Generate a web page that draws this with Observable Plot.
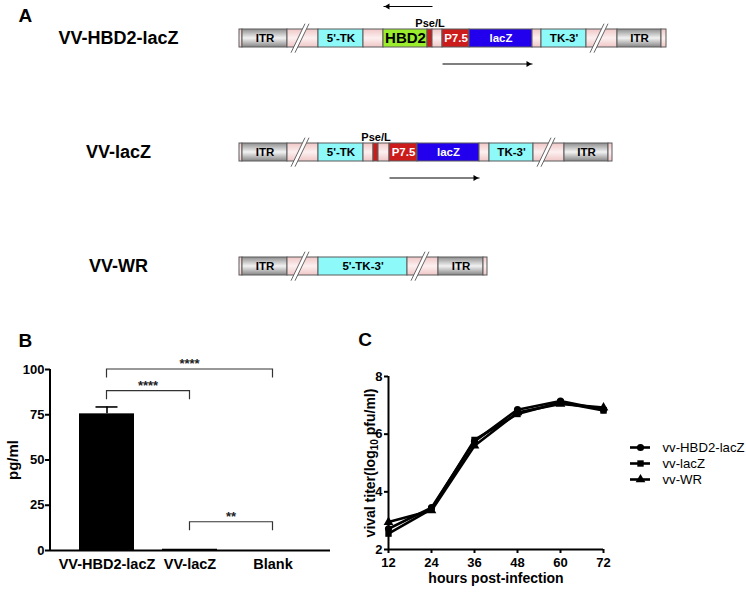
<!DOCTYPE html>
<html><head><meta charset="utf-8">
<script src="https://cdn.jsdelivr.net/npm/d3@7"></script>
<script src="https://cdn.jsdelivr.net/npm/@observablehq/plot@0.6"></script>
<style>
body{margin:0;background:#fff;}
#chart{position:relative;width:746px;height:593px;overflow:hidden;font-family:"Liberation Sans",Arial,sans-serif;}
#chart > div{position:absolute;}
#chart svg{max-width:none;background:none;overflow:visible;}
</style></head><body><div id="chart"></div>
<script>
// ---------------- Panel A: constructs ----------------
const constructs = ["VV-HBD2-lacZ", "VV-lacZ", "VV-WR"];
const partsHBD2 = ["end","ITR","break","5'-TK","spacer","HBD2","Pse/L","spacer","P7.5","lacZ","spacer","TK-3'","break","ITR","end"];
const lengthsHBD2 = [3,45,31,45,20,44,5,10,27,63,9,45,31,44,5];
const partsLacZ = ["end","ITR","break","5'-TK","spacer","Pse/L","spacer","P7.5","lacZ","spacer","TK-3'","break","ITR","end"];
const lengthsLacZ = [3,45,31,45,10,5,11,28,62,10,44,31,44,4];
const partsWR = ["end","ITR","break","5'-TK-3'","break","ITR","end"];
const lengthsWR = [3,45,31,89,31,45,4];
const arrowsA = [
  {construct: "VV-HBD2-lacZ", from: "Pse/L", to: "HBD2", side: "above"},
  {construct: "VV-HBD2-lacZ", from: "P7.5", to: "lacZ", side: "below"},
  {construct: "VV-lacZ", from: "P7.5", to: "lacZ", side: "below"}
];

// ---------------- Panel B: ELISA ----------------
const groupsB = ["VV-HBD2-lacZ", "VV-lacZ", "Blank"];
const meansB = [75.5, 0.7, 0];
const semB = [3.8, 0, 0];
const yTicksB = [0, 25, 50, 75, 100];
const compFrom = ["VV-HBD2-lacZ", "VV-HBD2-lacZ", "VV-lacZ"];
const compTo = ["Blank", "VV-lacZ", "Blank"];
const compLevel = [100, 88, 15.6];
const compLabel = ["****", "****", "**"];

// ---------------- Panel C: growth curves ----------------
const hours = [12, 24, 36, 48, 60, 72];
const seriesNames = ["vv-HBD2-lacZ", "vv-lacZ", "vv-WR"];
const titerHBD2 = [2.72, 3.45, 5.75, 6.85, 7.15, 6.85];
const titerLacZ = [2.55, 3.40, 5.80, 6.70, 7.10, 6.82];
const titerWR = [2.95, 3.35, 5.60, 6.75, 7.05, 6.92];
const yTicksC = [2, 4, 6, 8];

// ---------------- build tables ----------------
const layoutA = [[partsHBD2, lengthsHBD2], [partsLacZ, lengthsLacZ], [partsWR, lengthsWR]];
const segments = constructs.flatMap((c, i) => {
  let s = 0;
  return layoutA[i][0].map((p, j) => {
    const seg = {construct: c, part: p, start: s, end: s + layoutA[i][1][j]};
    s = seg.end;
    return seg;
  });
});
const totalA = d3.max(segments, d => d.end);
const arrowData = arrowsA.map(a => {
  const segs = segments.filter(s => s.construct === a.construct);
  const f = segs.find(s => s.part === a.from), t = segs.find(s => s.part === a.to);
  const rev = segs.indexOf(f) > segs.indexOf(t);
  return {...a, x1: rev ? f.end : f.start, x2: rev ? t.start : t.end, rev};
});
const dataB = groupsB.map((g, i) => ({group: g, mean: meansB[i], sem: semB[i]}));
const comps = compFrom.map((f, i) => ({from: f, to: compTo[i], level: compLevel[i], label: compLabel[i]}));
const titers = [titerHBD2, titerLacZ, titerWR];
const dataC = seriesNames.flatMap((s, i) => hours.map((h, j) => ({series: s, hour: h, titer: titers[i][j]})));

const FONT = '"Liberation Sans", Arial, sans-serif';
const chart = document.getElementById("chart");
function place(node, left, top) {
  const d = document.createElement("div");
  d.style.left = left + "px"; d.style.top = top + "px";
  d.appendChild(node); chart.appendChild(d);
  return node;
}
const bw = s => (s && typeof s.bandwidth === "function") ? s.bandwidth() : 0;

// ---------------- Panel A ----------------
const fillOf = {
  end: "url(#gPink)", break: "url(#gPink)", spacer: "url(#gPink)",
  ITR: "url(#gGrey)", "5'-TK": "#8ef9f9", "TK-3'": "#8ef9f9", "5'-TK-3'": "#8ef9f9",
  HBD2: "#9aec2c", "Pse/L": "#cc1b1b", "P7.5": "#cc1b1b", lacZ: "#2200ee"
};
const labeled = new Set(["ITR", "5'-TK", "TK-3'", "5'-TK-3'", "HBD2", "P7.5", "lacZ"]);
const slashes = (index, scales) => {
  const {x, y} = scales;
  const h = bw(y) || 18;
  const g = d3.create("svg:g");
  for (const d of segments.filter(d => d.part === "break")) {
    const xc = x((d.start + d.end) / 2) - 2.5;
    const yt = y(d.construct) - 5.3, yb = y(d.construct) + h + 5.7;
    const lean = 7, gap = 4;
    g.append("path")
      .attr("d", `M${xc - lean - gap / 2},${yb}L${xc + lean - gap / 2},${yt}L${xc + lean + gap / 2},${yt}L${xc - lean + gap / 2},${yb}Z`)
      .attr("fill", "white");
    for (const o of [-gap / 2, gap / 2]) {
      g.append("line").attr("x1", xc - lean + o).attr("y1", yb).attr("x2", xc + lean + o).attr("y2", yt)
        .attr("stroke", "#555").attr("stroke-width", 0.9);
    }
  }
  return g.node();
};
const above = arrowData.filter(d => d.side === "above");
const below = arrowData.filter(d => d.side === "below");
const plotA = Plot.plot({
  width: 746, height: 300, marginLeft: 239, marginRight: 746 - 239 - totalA, marginTop: 0, marginBottom: 0,
  x: {domain: [0, totalA], axis: null},
  y: {type: "band", domain: constructs, range: [28, 275.4], paddingInner: 0.843, paddingOuter: 0, axis: null},
  color: {type: "identity"},
  style: {fontFamily: FONT, background: "transparent", overflow: "visible"},
  marks: [
    Plot.barX(segments, {x1: "start", x2: "end", y: "construct", fill: d => fillOf[d.part], stroke: "#5a5a5a", strokeWidth: 1}),
    slashes,
    Plot.text(segments.filter(d => labeled.has(d.part)), {
      x: d => (d.start + d.end) / 2, y: "construct", text: "part",
      fill: d => (d.part === "P7.5" || d.part === "lacZ") ? "white" : "black",
      fontSize: d => d.part === "HBD2" ? 15 : 11.5, fontWeight: "bold"
    }),
    Plot.text(segments.filter(d => d.part === "Pse/L"), {
      x: d => (d.start + d.end) / 2, y: "construct", text: "part", dy: -15.5, fontSize: 11, fontWeight: "bold", fill: "black"
    }),
    Plot.link(above, {x1: "x1", x2: "x2", y1: "construct", y2: "construct", dy: -32, stroke: "black", strokeWidth: 1.2}),
    Plot.dot(above, {x: "x2", y: "construct", dy: -32, dx: 4.3, symbol: "triangle2", rotate: -90, r: 2.8, fill: "black"}),
    Plot.link(below, {x1: "x1", x2: "x2", y1: "construct", y2: "construct", dy: 25.5, stroke: "black", strokeWidth: 1.2}),
    Plot.dot(below, {x: "x2", y: "construct", dy: 25.5, dx: -4.3, symbol: "triangle2", rotate: 90, r: 2.8, fill: "black"}),
    Plot.text(constructs, {y: d => d, frameAnchor: "left", dx: -121, textAnchor: "middle", fontSize: 18, fontWeight: "bold", fill: "black"}),
    Plot.text(["A"], {frameAnchor: "top-left", dx: -221, dy: 8.3, lineAnchor: "top", textAnchor: "start", fontSize: 19, fontWeight: "bold", fill: "black"})
  ]
});
place(plotA, 0, 0);
const defs = d3.select(plotA).insert("defs", ":first-child");
const gp = defs.append("linearGradient").attr("id", "gPink").attr("x1", 0).attr("y1", 0).attr("x2", 0).attr("y2", 1);
gp.append("stop").attr("offset", 0).attr("stop-color", "#efc6c6");
gp.append("stop").attr("offset", 0.5).attr("stop-color", "#fdf0f0");
gp.append("stop").attr("offset", 1).attr("stop-color", "#efc6c6");
const gg = defs.append("linearGradient").attr("id", "gGrey").attr("x1", 0).attr("y1", 0).attr("x2", 0).attr("y2", 1);
gg.append("stop").attr("offset", 0).attr("stop-color", "#8e8e8e");
gg.append("stop").attr("offset", 0.5).attr("stop-color", "#f2f2f2");
gg.append("stop").attr("offset", 1).attr("stop-color", "#858585");

// ---------------- Panel B ----------------
const axisLineYB = (index, {y}, values, dims) => {
  const g = d3.create("svg:g");
  g.append("line").attr("x1", dims.marginLeft).attr("x2", dims.marginLeft)
    .attr("y1", y(d3.max(yTicksB))).attr("y2", y(0)).attr("stroke", "black").attr("stroke-width", 2);
  return g.node();
};
const bracketsB = (index, {x, y}) => {
  const g = d3.create("svg:g");
  const h = bw(x) / 2;
  for (const c of comps) {
    const xa = x(c.from) + h, xb = x(c.to) + h, yl = y(c.level), yd = y(c.level - 4.7);
    g.append("path").attr("d", `M${xa},${yd}V${yl}H${xb}V${yd}`).attr("fill", "none").attr("stroke", "#333").attr("stroke-width", 1.2);
    g.append("text").attr("x", (xa + xb) / 2).attr("y", yl - 1).attr("text-anchor", "middle")
      .attr("font-size", 13).attr("font-weight", "bold").attr("fill", "#222").text(c.label);
  }
  return g.node();
};
const plotB = Plot.plot({
  width: 330, height: 273, marginLeft: 50, marginRight: 0, marginTop: 49, marginBottom: 43,
  x: {type: "band", domain: groupsB, paddingInner: 0.337, paddingOuter: 0.355, label: null},
  y: {domain: [0, 100], label: null},
  style: {fontFamily: FONT, fontWeight: "bold", background: "transparent", overflow: "visible"},
  marks: [
    Plot.barY(dataB, {x: "group", y: "mean", fill: "black"}),
    Plot.ruleX(dataB.filter(d => d.sem > 0), {x: "group", y1: "mean", y2: d => d.mean + d.sem, stroke: "black", strokeWidth: 1.6}),
    Plot.tickY(dataB.filter(d => d.sem > 0), {x: "group", y: d => d.mean + d.sem, insetLeft: 16.5, insetRight: 16.5, stroke: "black", strokeWidth: 1.6}),
    Plot.ruleY([0], {stroke: "black", strokeWidth: 2}),
    axisLineYB,
    Plot.axisY({ticks: yTicksB, tickFormat: d => String(d), tickSize: 5, tickPadding: 1, fontSize: 13, fontWeight: "bold", strokeWidth: 2, label: null}),
    Plot.axisX({tickSize: 0, tickPadding: 8, fontSize: 14.5, fontWeight: "bold", label: null}),
    bracketsB,
    Plot.text(["pg/ml"], {frameAnchor: "left", dx: -37, rotate: -90, textAnchor: "middle", fontSize: 15, fontWeight: "bold", fill: "black"}),
    Plot.text(["B"], {frameAnchor: "top-left", dx: -32, dy: -36, lineAnchor: "top", textAnchor: "start", fontSize: 19, fontWeight: "bold", fill: "black"})
  ]
});
place(plotB, 0, 320);

// ---------------- Panel C ----------------
const symbolScale = {domain: seriesNames, range: ["circle", "square", "triangle"]};
const plotC = Plot.plot({
  width: 416, height: 273, marginLeft: 58, marginRight: 143, marginTop: 56, marginBottom: 44,
  x: {domain: [d3.min(hours), d3.max(hours)], label: null},
  y: {domain: [d3.min(yTicksC), d3.max(yTicksC)], label: null},
  symbol: symbolScale,
  style: {fontFamily: FONT, fontWeight: "bold", background: "transparent", overflow: "visible"},
  marks: [
    Plot.ruleX([d3.min(hours)], {stroke: "black", strokeWidth: 2}),
    Plot.ruleY([d3.min(yTicksC)], {stroke: "black", strokeWidth: 2}),
    Plot.line(dataC, {x: "hour", y: "titer", z: "series", stroke: "black", strokeWidth: 2.6}),
    Plot.dot(dataC, {x: "hour", y: "titer", symbol: "series", fill: "black", r: 3.6}),
    Plot.axisX({ticks: hours, tickFormat: d => String(d), tickSize: 4, tickPadding: 4, fontSize: 13, fontWeight: "bold", strokeWidth: 2, label: null}),
    Plot.axisY({ticks: yTicksC, tickFormat: d => String(d), tickSize: 4, tickPadding: 2, fontSize: 13, fontWeight: "bold", strokeWidth: 2, label: null}),
    Plot.text(["vival titer(log10 pfu/ml)"], {frameAnchor: "left", dx: -18, rotate: -90, textAnchor: "middle", fontSize: 14, fontWeight: "bold", fill: "black"}),
    Plot.text(["hours post-infection"], {frameAnchor: "bottom", dy: 33.7, textAnchor: "middle", fontSize: 14, fontWeight: "bold", fill: "black"}),
    Plot.text(["C"], {frameAnchor: "top-left", dx: -30.3, dy: -44, lineAnchor: "top", textAnchor: "start", fontSize: 19, fontWeight: "bold", fill: "black"})
  ]
});
place(plotC, 330, 320);
d3.select(plotC).selectAll("text").each(function () {
  if (this.textContent === "vival titer(log10 pfu/ml)") {
    const t = d3.select(this);
    t.text(null);
    t.append("tspan").text("vival titer(log");
    t.append("tspan").attr("font-size", 10).attr("dy", 3).text("10");
    t.append("tspan").attr("dy", -3).text(" pfu/ml)");
  }
});

// ---------------- Legend for C ----------------
const legendC = Plot.plot({
  width: 116, height: 95, marginLeft: 0, marginRight: 96, marginTop: 0, marginBottom: 0,
  y: {type: "point", domain: seriesNames, range: [33, 82], axis: null},
  symbol: symbolScale,
  style: {fontFamily: FONT, background: "transparent", overflow: "visible"},
  marks: [
    Plot.tickY(seriesNames, {y: d => d, stroke: "black", strokeWidth: 2.6}),
    Plot.dot(seriesNames, {y: d => d, symbol: d => d, fill: "black", r: 3.6}),
    Plot.text(seriesNames, {y: d => d, frameAnchor: "right", dx: 12, textAnchor: "start", fontSize: 13.2, fill: "black"})
  ]
});
place(legendC, 630, 405);
</script></body></html>
